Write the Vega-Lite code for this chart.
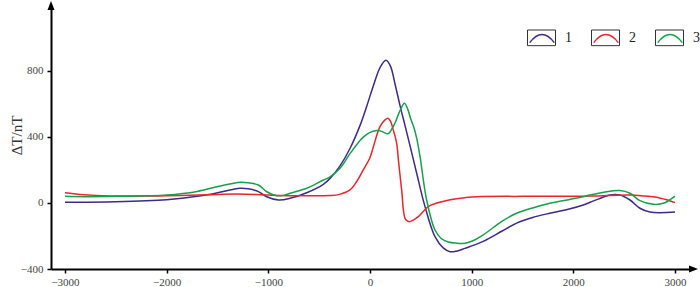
{
  "$schema": "https://vega.github.io/schema/vega-lite/v6.json",
  "width": 639,
  "height": 260,
  "autosize": {"type": "none"},
  "padding": {"left": 51, "top": 9, "right": 10, "bottom": 18},
  "background": "white",
  "config": {"view": {"stroke": null}, "font": "Liberation Serif, Times New Roman, serif"},
  "datasets": {
    "curves": [
      {"x": -3000, "y": 5, "s": "1"}, {"x": -2500, "y": 8, "s": "1"}, {"x": -2000, "y": 20, "s": "1"}, {"x": -1700, "y": 40, "s": "1"},
      {"x": -1500, "y": 62, "s": "1"}, {"x": -1350, "y": 82, "s": "1"}, {"x": -1278, "y": 89, "s": "1"}, {"x": -1200, "y": 86, "s": "1"},
      {"x": -1098, "y": 69, "s": "1"}, {"x": -1016, "y": 38, "s": "1"}, {"x": -902, "y": 18, "s": "1"}, {"x": -787, "y": 28, "s": "1"},
      {"x": -623, "y": 62, "s": "1"}, {"x": -459, "y": 113, "s": "1"}, {"x": -393, "y": 149, "s": "1"}, {"x": -295, "y": 225, "s": "1"},
      {"x": -197, "y": 330, "s": "1"}, {"x": -98, "y": 470, "s": "1"}, {"x": -33, "y": 585, "s": "1"}, {"x": 33, "y": 710, "s": "1"},
      {"x": 100, "y": 822, "s": "1"}, {"x": 157, "y": 864, "s": "1"}, {"x": 200, "y": 830, "s": "1"}, {"x": 250, "y": 710, "s": "1"},
      {"x": 295, "y": 590, "s": "1"}, {"x": 344, "y": 470, "s": "1"}, {"x": 400, "y": 330, "s": "1"}, {"x": 459, "y": 180, "s": "1"},
      {"x": 541, "y": -22, "s": "1"}, {"x": 639, "y": -204, "s": "1"}, {"x": 720, "y": -272, "s": "1"}, {"x": 787, "y": -295, "s": "1"},
      {"x": 850, "y": -292, "s": "1"}, {"x": 934, "y": -275, "s": "1"}, {"x": 1113, "y": -233, "s": "1"}, {"x": 1300, "y": -170, "s": "1"},
      {"x": 1442, "y": -122, "s": "1"}, {"x": 1600, "y": -88, "s": "1"}, {"x": 1770, "y": -62, "s": "1"}, {"x": 1950, "y": -38, "s": "1"},
      {"x": 2098, "y": -12, "s": "1"}, {"x": 2164, "y": 4, "s": "1"}, {"x": 2250, "y": 25, "s": "1"}, {"x": 2360, "y": 48, "s": "1"},
      {"x": 2458, "y": 48, "s": "1"}, {"x": 2557, "y": 18, "s": "1"}, {"x": 2655, "y": -32, "s": "1"}, {"x": 2754, "y": -55, "s": "1"},
      {"x": 3000, "y": -55, "s": "1"},

      {"x": -3000, "y": 62, "s": "2"}, {"x": -2850, "y": 52, "s": "2"}, {"x": -2700, "y": 46, "s": "2"}, {"x": -2400, "y": 42, "s": "2"},
      {"x": -2000, "y": 44, "s": "2"}, {"x": -1600, "y": 50, "s": "2"}, {"x": -1300, "y": 54, "s": "2"}, {"x": -1000, "y": 48, "s": "2"},
      {"x": -700, "y": 44, "s": "2"}, {"x": -393, "y": 45, "s": "2"}, {"x": -300, "y": 52, "s": "2"}, {"x": -197, "y": 79, "s": "2"},
      {"x": -131, "y": 130, "s": "2"}, {"x": -66, "y": 200, "s": "2"}, {"x": 0, "y": 275, "s": "2"}, {"x": 33, "y": 341, "s": "2"},
      {"x": 98, "y": 462, "s": "2"}, {"x": 150, "y": 505, "s": "2"}, {"x": 177, "y": 513, "s": "2"}, {"x": 200, "y": 497, "s": "2"},
      {"x": 229, "y": 442, "s": "2"}, {"x": 262, "y": 362, "s": "2"}, {"x": 279, "y": 261, "s": "2"}, {"x": 311, "y": 79, "s": "2"},
      {"x": 344, "y": -93, "s": "2"}, {"x": 370, "y": -110, "s": "2"}, {"x": 393, "y": -113, "s": "2"}, {"x": 430, "y": -102, "s": "2"},
      {"x": 475, "y": -83, "s": "2"}, {"x": 573, "y": -22, "s": "2"}, {"x": 650, "y": -2, "s": "2"}, {"x": 737, "y": 12, "s": "2"},
      {"x": 850, "y": 25, "s": "2"}, {"x": 934, "y": 32, "s": "2"}, {"x": 1049, "y": 38, "s": "2"}, {"x": 1500, "y": 40, "s": "2"},
      {"x": 2000, "y": 40, "s": "2"}, {"x": 2164, "y": 42, "s": "2"}, {"x": 2557, "y": 48, "s": "2"}, {"x": 2700, "y": 42, "s": "2"},
      {"x": 2820, "y": 35, "s": "2"}, {"x": 2900, "y": 22, "s": "2"}, {"x": 3000, "y": 2, "s": "2"},

      {"x": -3000, "y": 40, "s": "3"}, {"x": -2800, "y": 38, "s": "3"}, {"x": -2500, "y": 40, "s": "3"}, {"x": -2000, "y": 48, "s": "3"},
      {"x": -1700, "y": 70, "s": "3"}, {"x": -1507, "y": 98, "s": "3"}, {"x": -1350, "y": 118, "s": "3"}, {"x": -1278, "y": 125, "s": "3"},
      {"x": -1200, "y": 122, "s": "3"}, {"x": -1098, "y": 109, "s": "3"}, {"x": -1016, "y": 68, "s": "3"}, {"x": -918, "y": 44, "s": "3"},
      {"x": -850, "y": 46, "s": "3"}, {"x": -787, "y": 59, "s": "3"}, {"x": -623, "y": 89, "s": "3"}, {"x": -459, "y": 139, "s": "3"},
      {"x": -393, "y": 158, "s": "3"}, {"x": -295, "y": 210, "s": "3"}, {"x": -197, "y": 299, "s": "3"}, {"x": -98, "y": 379, "s": "3"},
      {"x": -66, "y": 399, "s": "3"}, {"x": 0, "y": 428, "s": "3"}, {"x": 66, "y": 439, "s": "3"}, {"x": 98, "y": 438, "s": "3"},
      {"x": 140, "y": 426, "s": "3"}, {"x": 180, "y": 420, "s": "3"}, {"x": 230, "y": 465, "s": "3"}, {"x": 250, "y": 490, "s": "3"},
      {"x": 295, "y": 559, "s": "3"}, {"x": 338, "y": 604, "s": "3"}, {"x": 370, "y": 570, "s": "3"}, {"x": 400, "y": 510, "s": "3"},
      {"x": 430, "y": 460, "s": "3"}, {"x": 460, "y": 390, "s": "3"}, {"x": 492, "y": 281, "s": "3"}, {"x": 557, "y": 18, "s": "3"},
      {"x": 639, "y": -164, "s": "3"}, {"x": 700, "y": -215, "s": "3"}, {"x": 770, "y": -236, "s": "3"}, {"x": 850, "y": -243, "s": "3"},
      {"x": 934, "y": -244, "s": "3"}, {"x": 1000, "y": -232, "s": "3"}, {"x": 1114, "y": -193, "s": "3"}, {"x": 1300, "y": -110, "s": "3"},
      {"x": 1442, "y": -62, "s": "3"}, {"x": 1600, "y": -30, "s": "3"}, {"x": 1770, "y": -2, "s": "3"}, {"x": 1950, "y": 20, "s": "3"},
      {"x": 2098, "y": 38, "s": "3"}, {"x": 2164, "y": 48, "s": "3"}, {"x": 2300, "y": 65, "s": "3"}, {"x": 2458, "y": 75, "s": "3"},
      {"x": 2557, "y": 59, "s": "3"}, {"x": 2655, "y": 14, "s": "3"}, {"x": 2786, "y": -8, "s": "3"}, {"x": 2885, "y": -2, "s": "3"},
      {"x": 3000, "y": 42, "s": "3"}
    ]
  },
  "layer": [
    {
      "data": {"name": "curves"},
      "mark": {"type": "line", "interpolate": "catmull-rom", "strokeWidth": 1.5},
      "encoding": {
        "x": {
          "field": "x", "type": "quantitative",
          "scale": {"domain": [-3138, 3147.5], "nice": false, "zero": false},
          "axis": {
            "values": [-3000, -2000, -1000, 0, 1000, 2000, 3000],
            "format": "d",
            "title": null, "grid": false,
            "domainColor": "black", "domainWidth": 2,
            "tickColor": "black", "tickWidth": 1.5, "tickSize": 4,
            "labelFont": "Liberation Serif, Times New Roman, serif", "labelFontSize": 11, "labelColor": "#444", "labelPadding": 3
          }
        },
        "y": {
          "field": "y", "type": "quantitative",
          "scale": {"domain": [-400, 1175], "nice": false, "zero": false},
          "axis": {
            "values": [-400, -200, 0, 200, 400, 600, 800, 1000],
            "format": "d",
            "labelExpr": "datum.value % 400 === 0 ? datum.label : ''",
            "grid": false,
            "domainColor": "black", "domainWidth": 2,
            "tickColor": "black", "tickWidth": 1.5, "tickSize": 4,
            "labelFont": "Liberation Serif, Times New Roman, serif", "labelFontSize": 11, "labelColor": "#444", "labelPadding": 4,
            "title": "ΔT/nT", "titleFont": "Liberation Serif, Times New Roman, serif", "titleFontSize": 15, "titleFontWeight": "normal",
            "titleColor": "#333", "titleX": -35, "titleY": 126, "titleAngle": -90, "titleAlign": "center", "titleBaseline": "middle"
          }
        },
        "color": {
          "field": "s", "type": "nominal",
          "scale": {"range": ["#3d2b85", "#e8262b", "#17a04a"]},
          "legend": {
            "orient": "none", "legendX": 476, "legendY": 14, "direction": "horizontal", "title": null,
            "symbolType": "M-0.88,0.3Q0,-0.86 0.88,0.3", "symbolSize": 784, "symbolStrokeWidth": 1.5,
            "symbolFillColor": "transparent",
            "labelFont": "Liberation Serif, Times New Roman, serif", "labelFontSize": 14, "labelColor": "#222", "labelOffset": 8,
            "columnPadding": 18, "padding": 0
          }
        }
      }
    },
    {
      "data": {"values": []},
      "mark": {"type": "point", "color": "#333", "opacity": 1, "strokeWidth": 1, "filled": false},
      "encoding": {
        "shape": {
          "field": "k", "type": "nominal",
          "scale": {"domain": ["1", "2", "3"], "range": ["M-1,-0.56H1V0.56H-1Z", "M-1,-0.56H1V0.56H-1Z", "M-1,-0.56H1V0.56H-1Z"]},
          "legend": {
            "orient": "none", "legendX": 476, "legendY": 14, "direction": "horizontal", "title": null,
            "symbolSize": 784, "symbolStrokeWidth": 1, "symbolStrokeColor": "#333", "symbolFillColor": "transparent",
            "labelFont": "Liberation Serif, Times New Roman, serif", "labelFontSize": 14, "labelColor": "transparent", "labelOffset": 8,
            "columnPadding": 18, "padding": 0
          }
        }
      }
    },
    {
      "data": {"values": [{}]},
      "mark": {"type": "point", "shape": "M0,-1.6L0.7,0.2L-0.7,0.2Z", "filled": true, "color": "black", "opacity": 1, "size": 100},
      "encoding": {"x": {"datum": -3138, "type": "quantitative"}, "y": {"datum": 1175, "type": "quantitative"}}
    },
    {
      "data": {"values": [{}]},
      "mark": {"type": "point", "shape": "M1.6,0L-0.2,-0.7L-0.2,0.7Z", "filled": true, "color": "black", "opacity": 1, "size": 100},
      "encoding": {"x": {"datum": 3147.5, "type": "quantitative"}, "y": {"datum": -400, "type": "quantitative"}}
    }
  ]
}
